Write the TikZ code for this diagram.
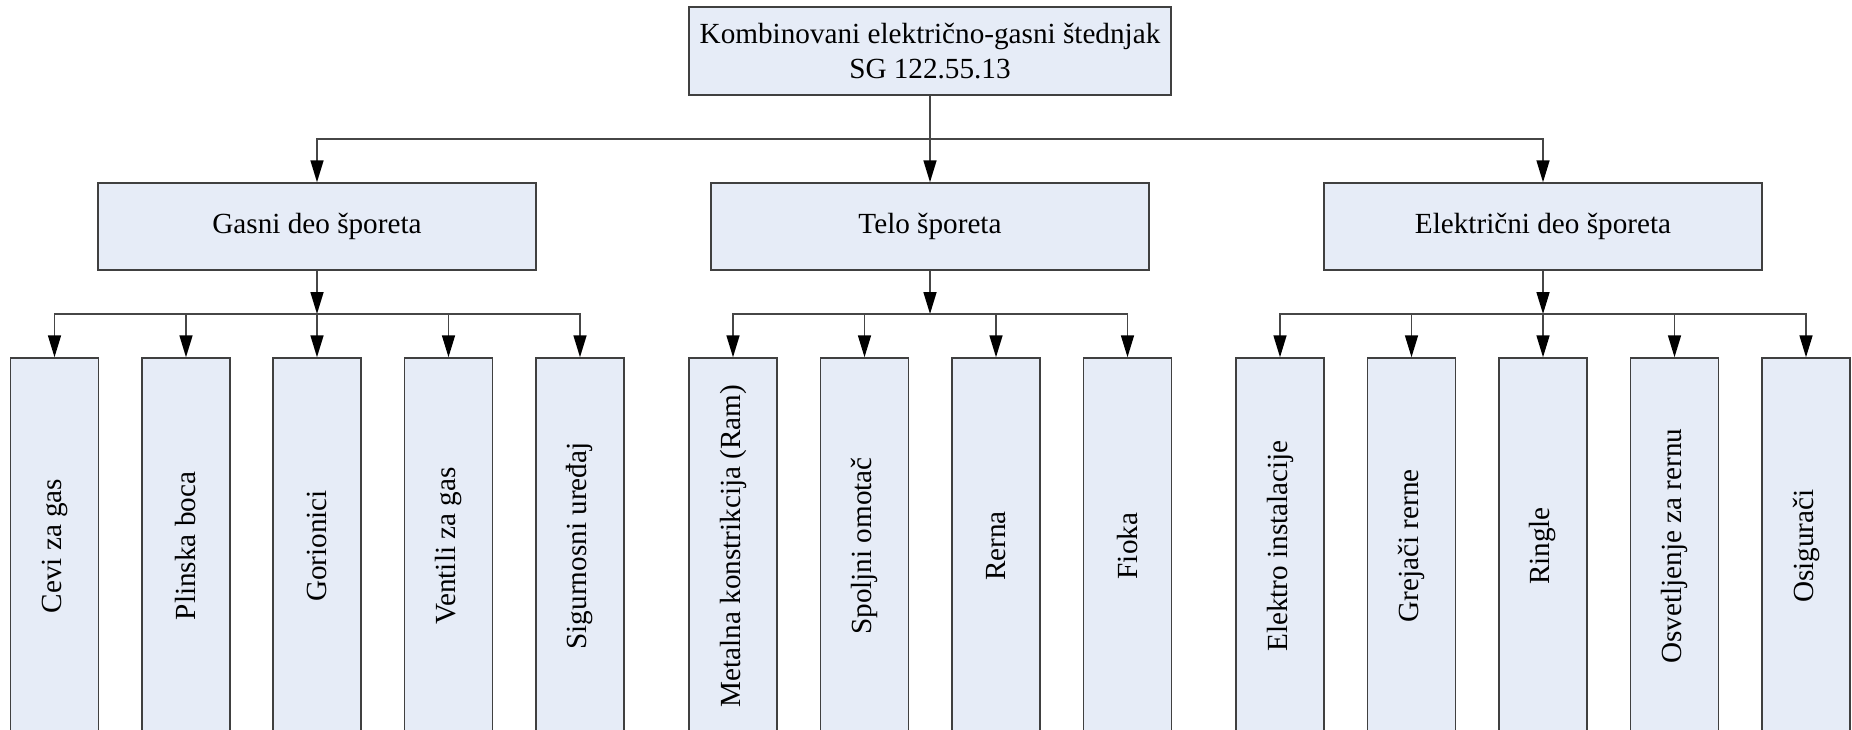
\documentclass[tikz,border=0pt]{standalone}
\usepackage{fontspec,graphicx}
\setmainfont{Liberation Serif}
\usetikzlibrary{arrows.meta,positioning}
\definecolor{boxfill}{RGB}{230,236,247}
\definecolor{boxline}{RGB}{64,64,64}
\definecolor{wire}{RGB}{70,70,70}
\tikzset{
  mainbox/.style={draw=boxline,fill=boxfill,line width=0.75pt,minimum width=241pt,minimum height=44pt,inner sep=0pt,align=center,font=\fontsize{14.6}{17.5}\selectfont},
  partbox/.style={mainbox,minimum width=219pt,minimum height=43.5pt},
  leafbox/.style={mainbox,minimum width=44pt,minimum height=188pt},
  wire/.style={draw=wire,line width=0.8pt},
  arr/.style={wire,-{Triangle[length=11pt,width=6.5pt,color=black]}}
}
\begin{document}
\begin{tikzpicture}[x=0.5pt,y=-0.5pt]
            \path[use as bounding box] (0,0) rectangle (1852,729);
            \clip (0,0) rectangle (1852,729);

            \node[mainbox] (top) at (930,51) {Kombinovani električno-gasni štednjak\\SG 122.55.13};
            \node[partbox] (gas) at (317,226.5) {Gasni deo šporeta};
            \node[partbox] (body) at (930,226.5) {Telo šporeta};
            \node[partbox] (elec) at (1543,226.5) {Električni deo šporeta};

            \node[leafbox] (g1) at (54.5,546) {\rotatebox{90}{Cevi za gas}};
            \node[leafbox] (g2) at (186,546) {\rotatebox{90}{Plinska boca}};
            \node[leafbox] (g3) at (317,546) {\rotatebox{90}{Gorionici}};
            \node[leafbox] (g4) at (448.5,546) {\rotatebox{90}{Ventili za gas}};
            \node[leafbox] (g5) at (580,546) {\rotatebox{90}{Sigurnosni uređaj}};

            \node[leafbox] (b1) at (733,546) {\rotatebox{90}{Metalna konstrikcija (Ram)}};
            \node[leafbox] (b2) at (864.5,546) {\rotatebox{90}{Spoljni omotač}};
            \node[leafbox] (b3) at (996,546) {\rotatebox{90}{Rerna}};
            \node[leafbox] (b4) at (1127.5,546) {\rotatebox{90}{Fioka}};

            \node[leafbox] (e1) at (1280,546) {\rotatebox{90}{Elektro instalacije}};
            \node[leafbox] (e2) at (1411.5,546) {\rotatebox{90}{Grejači rerne}};
            \node[leafbox] (e3) at (1543,546) {\rotatebox{90}{Ringle}};
            \node[leafbox] (e4) at (1674.5,546) {\rotatebox{90}{Osvetljenje za rernu}};
            \node[leafbox] (e5) at (1806,546) {\rotatebox{90}{Osigurači}};

            % first level
            \coordinate (topbus) at (930,139);
            \draw[wire] (top) -- (topbus);
            \draw[arr] (topbus) -| (gas);
            \draw[arr] (topbus) -- (body);
            \draw[arr] (topbus) -| (elec);

            % gas part
            \coordinate (gasbus) at (317,314);
            \draw[arr] (gas) -- (gasbus);
            \draw[arr] (gasbus) -| (g1);
            \draw[arr] (gasbus) -| (g2);
            \draw[arr] (gasbus) -- (g3);
            \draw[arr] (gasbus) -| (g4);
            \draw[arr] (gasbus) -| (g5);

            % body
            \coordinate (bodybus) at (930,314);
            \draw[arr] (body) -- (bodybus);
            \draw[arr] (bodybus) -| (b1);
            \draw[arr] (bodybus) -| (b2);
            \draw[arr] (bodybus) -| (b3);
            \draw[arr] (bodybus) -| (b4);

            % electric part
            \coordinate (elecbus) at (1543,314);
            \draw[arr] (elec) -- (elecbus);
            \draw[arr] (elecbus) -| (e1);
            \draw[arr] (elecbus) -| (e2);
            \draw[arr] (elecbus) -- (e3);
            \draw[arr] (elecbus) -| (e4);
            \draw[arr] (elecbus) -| (e5);
\end{tikzpicture}
\end{document}
